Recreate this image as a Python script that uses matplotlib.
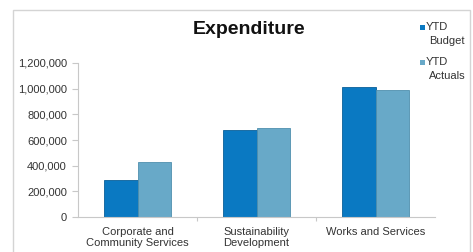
import numpy as np
import matplotlib.pyplot as plt
from matplotlib.patches import Rectangle

plt.rcParams['font.family'] = ['Liberation Sans', 'DejaVu Sans']

categories = ['Corporate and\nCommunity Services', 'Sustainability\nDevelopment', 'Works and Services']
ytd_budget = [285000, 680000, 1012000]
ytd_actuals = [428000, 695000, 991000]
yticks = [0, 200000, 400000, 600000, 800000, 1000000, 1200000]

c_budget = '#0a79c2'
c_actual = '#68a9c8'

fig = plt.figure(figsize=(4.73, 2.52), dpi=100)
fig.patch.set_facecolor('white')

# light frame round the chart area
fig.patches.append(Rectangle((13 / 473, -0.1), 457 / 473, 1 - 10 / 252 + 0.1,
                             transform=fig.transFigure, fill=False,
                             edgecolor='#d4d4d4', linewidth=1.0))

ax = fig.add_axes([78 / 473, 1 - 217 / 252, 357 / 473, (217 - 63) / 252])

x = np.arange(len(categories))
w = 0.285
ax.bar(x - w / 2, ytd_budget, w, color=c_budget, edgecolor='#0a5f99', linewidth=0.6)
ax.bar(x + w / 2, ytd_actuals, w, color=c_actual, edgecolor='#4f8fae', linewidth=0.6)

ax.set_xlim(-0.5, 2.5)
ax.set_ylim(0, 1200000)
ax.set_yticks(yticks)
ax.set_yticklabels([f'{v:,}' for v in yticks])
ax.set_xticks(x)
ax.set_xticklabels(categories)
ax.set_xticks([0.5, 1.5], minor=True)

for s in ['top', 'right']:
    ax.spines[s].set_visible(False)
for s in ['left', 'bottom']:
    ax.spines[s].set_color('#c8c8c8')
    ax.spines[s].set_linewidth(0.8)

ax.tick_params(axis='y', labelsize=8, colors='#c8c8c8', labelcolor='#333333',
               length=4, width=0.8, pad=4)
ax.tick_params(axis='x', which='major', labelsize=8, labelcolor='#333333',
               length=0, pad=7)
ax.tick_params(axis='x', which='minor', length=3, color='#c8c8c8', width=0.8)

fig.text(249 / 473, 1 - 30 / 252, 'Expenditure', ha='center', va='center',
         fontsize=14, fontweight='bold', color='#111111')

# legend
for ytop, color, name in [(27, c_budget, 'Budget'), (62, c_actual, 'Actuals')]:
    fig.patches.append(Rectangle((420 / 473, 1 - (ytop + 3) / 252), 5 / 473, 5 / 252,
                                 transform=fig.transFigure, facecolor=color,
                                 edgecolor='none'))
    fig.text(426 / 473, 1 - ytop / 252, 'YTD', ha='left', va='center',
             fontsize=8, color='#333333')
    fig.text(429 / 473, 1 - (ytop + 14) / 252, name, ha='left', va='center',
             fontsize=8, color='#333333')

fig.savefig('out.png', dpi=100)
